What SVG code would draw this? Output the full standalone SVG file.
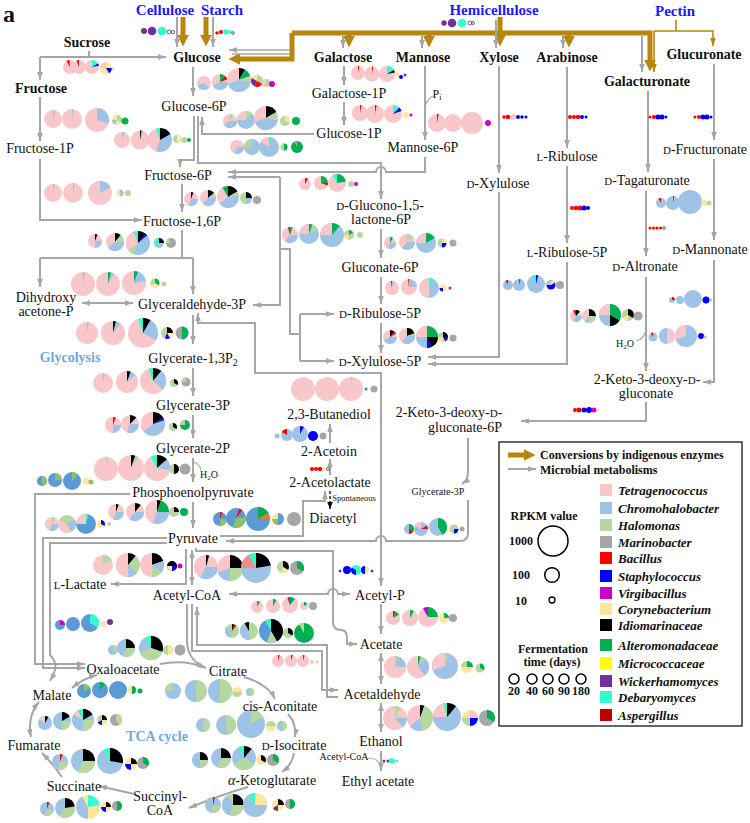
<svg xmlns="http://www.w3.org/2000/svg" width="750" height="823" viewBox="0 0 750 823">
<style>
.t{font-family:"Liberation Serif","Times New Roman",serif;font-size:14px;fill:#111;text-anchor:middle}
.b{font-weight:bold}
.src{font-weight:bold;font-size:15px;fill:#1a1aff}
.s{font-size:10px}
.lg{font-weight:bold;font-size:12px;text-anchor:start}
.lc{font-weight:bold;font-size:12px}
.tx{font-weight:bold;font-style:italic;font-size:13px;text-anchor:start}
.g{fill:none;stroke:#a6a6a6;stroke-width:2}
.ge{marker-end:url(#ag)}
.gd{marker-start:url(#ag);marker-end:url(#ag)}
.o{fill:none;stroke:#b8860b;stroke-width:5;marker-end:url(#ao)}
.ot{fill:none;stroke:#b8860b;stroke-width:1.6}
.pk{fill:#f9c6c9}.bl{fill:#9dc3e6}.gn{fill:#b5d7a0}.gy{fill:#a6a6a6}.rd{fill:#f00}.db{fill:#00f}.pu{fill:#c0c}.ye{fill:#ffe699}.bk{fill:#000}.dg{fill:#00b050}.yy{fill:#ff0}.wp{fill:#7030a0}.tq{fill:#33ffcc}.dr{fill:#c00000}.mb{fill:#5b9bd5}.mg{fill:#8cc168}.or{fill:#ed7d31}.sa{fill:#f28b8b}
.ol{fill:none;stroke:#444;stroke-width:.8}
</style>
<defs>
<marker id="ag" viewBox="0 0 10 10" refX="10" refY="5" markerWidth="8" markerHeight="8" markerUnits="userSpaceOnUse" orient="auto-start-reverse"><path d="M0 1.5L10 5L0 8.5z" fill="#a6a6a6"/></marker>
<marker id="at" viewBox="0 0 10 10" refX="10" refY="5" markerWidth="8" markerHeight="8" markerUnits="userSpaceOnUse" orient="auto"><path d="M0 1.5L10 5L0 8.5z" fill="#b8860b"/></marker>
<marker id="ao" viewBox="0 0 10 10" refX="2" refY="5" markerWidth="12" markerHeight="12" markerUnits="userSpaceOnUse" orient="auto"><path d="M0 0L10 5L0 10z" fill="#b8860b"/></marker>
<marker id="mk" viewBox="0 0 10 10" refX="10" refY="5" markerWidth="7" markerHeight="7" markerUnits="userSpaceOnUse" orient="auto"><path d="M0 1L10 5L0 9z" fill="#000"/></marker>
</defs>
<rect width="750" height="823" fill="#fff"/>

<g id="connectors">
<path class="o" d="M500 17V37"/>
<path class="o" d="M292 33H650V62"/>
<path class="o" d="M292 33V59H238"/>
<path class="o" d="M349 33V38"/>
<path class="o" d="M429 33V38"/>
<path class="o" d="M569 33V38"/>
<path class="o" d="M183 17V37"/>
<path class="o" d="M206 17V37"/>
<path class="ot" d="M676 20V31"/>
<path class="ot" d="M654 31H713V46" marker-end="url(#at)"/>
<path class="ot" d="M654 31V72" marker-end="url(#at)"/>
<path class="g ge" d="M177 17V47"/>
<path class="g ge" d="M213 17V47"/>
<path class="g ge" d="M290 50H229" style="stroke-width:1.6"/>
<path class="g" d="M290 54H232" style="stroke-width:1.6"/>
<path class="g ge" d="M343 36V48"/>
<path class="g ge" d="M422 36V48"/>
<path class="g ge" d="M496 20V48"/>
<path class="g ge" d="M563 36V48"/>
<path class="g ge" d="M642 36V72"/>
<path class="g ge" d="M40 57H166"/>
<path class="g" d="M89 51V57"/>
<path class="g ge" d="M40 57V80"/>
<path class="g ge" d="M40 97V141"/>
<path class="g ge" d="M40 159V220H142"/>
<path class="g ge" d="M193 67V96"/>
<path class="g ge" d="M194 116V160H180V167"/>
<path class="g ge" d="M198 116V163H381V199"/>
<path class="g ge" d="M314 134H202V117"/>
<path class="g ge" d="M344 66V85"/>
<path class="g ge" d="M344 102V125"/>
<path class="g ge" d="M425 66V140"/>
<path class="g" d="M425 110Q425 100 433 96" style="stroke-width:1.2"/>
<path class="g ge" d="M425 157V172H386A5 5 0 0 0 376 172H228"/>
<path class="g ge" d="M280 177H228"/>
<path class="g ge" d="M280 177V305H253"/>
<path class="g" d="M300 334H290V249H280"/>
<path class="g" d="M300 314V361"/>
<path class="g ge" d="M300 314H334"/>
<path class="g ge" d="M300 361H334"/>
<path class="g ge" d="M381 229V258"/>
<path class="g ge" d="M381 277V304"/>
<path class="g ge" d="M381 323V353"/>
<path class="g ge" d="M381 372V586"/>
<path class="g ge" d="M381 373H255V323H198V313"/>
<path class="g ge" d="M182 184V212"/>
<path class="g" d="M182 230V258"/>
<path class="g" d="M40 258H193"/>
<path class="g ge" d="M40 258V287"/>
<path class="g ge" d="M193 258V294"/>
<path class="g gd" d="M82 303H133"/>
<path class="g ge" d="M193 315V344"/>
<path class="g ge" d="M193 368V396"/>
<path class="g ge" d="M193 415V438"/>
<path class="g ge" d="M193 458V482"/>
<path class="g" d="M193 462Q200 464 201 470" style="stroke-width:1.2"/>
<path class="g ge" d="M193 502V528"/>
<path class="g ge" d="M130 494H35V664H85"/>
<path class="g ge" d="M167 538H43V668H85"/>
<path class="g ge" d="M167 543H50V655Q57 662 55 670Q53 676 50 681"/>
<path class="g ge" d="M186 549V584H111"/>
<path class="g gd" d="M192 550V585"/>
<path class="g ge" d="M220 536H303V501H325V491"/>
<path class="g ge" d="M468 438V472Q468 480 462 484"/>
<path class="g ge" d="M468 500V533Q468 541 460 541H386A5 5 0 0 0 376 541H226"/>
<path class="g ge" d="M196 548V551H333V622Q333 630 341 630Q347 630 347 638V644H357"/>
<path class="g gd" d="M229 594H328A5 5 0 0 1 338 594H350"/>
<path class="g ge" d="M187 604V642Q188 660 204 667"/>
<path class="g ge" d="M192 604V651H322V690H338"/>
<path class="g ge" d="M338 697H327V645H197V607"/>
<path class="g ge" d="M330 475V459"/>
<path class="g ge" d="M330 443V424"/>
<path d="M330 491V509" fill="none" stroke="#000" stroke-width="1.3" stroke-dasharray="3 2" marker-end="url(#mk)"/>
<path class="g ge" d="M381 604V634"/>
<path class="g gd" d="M381 653V684"/>
<path class="g gd" d="M381 703V732"/>
<path class="g ge" d="M381 751V771"/>
<path class="g" d="M368 758Q378 758 381 766" style="stroke-width:1.2"/>
<path class="g ge" d="M160 664Q185 659 206 668"/>
<path class="g ge" d="M244 677Q268 684 275 699"/>
<path class="g ge" d="M288 714Q297 724 295 737"/>
<path class="g ge" d="M294 753Q292 765 282 772"/>
<path class="g ge" d="M248 787Q220 795 189 808"/>
<path class="g ge" d="M134 794L99 786"/>
<path class="g ge" d="M62 777Q53 764 42 753"/>
<path class="g gd" d="M31 737Q27 716 39 702"/>
<path class="g gd" d="M72 688Q84 678 97 675"/>
<path class="g ge" d="M499 66V173"/>
<path class="g ge" d="M499 192V357H428"/>
<path class="g ge" d="M567 67V148"/>
<path class="g ge" d="M567 166V243"/>
<path class="g ge" d="M567 262V364H428"/>
<path class="g ge" d="M648 91V172"/>
<path class="g ge" d="M646 191V256"/>
<path class="g ge" d="M646 277V371"/>
<path class="g" d="M646 328Q646 338 636 341" style="stroke-width:1.2"/>
<path class="g ge" d="M714 64V140"/>
<path class="g ge" d="M714 159V240"/>
<path class="g ge" d="M714 260V382H703"/>
<path class="g ge" d="M646 402V421H521"/>
</g>

<g id="pies">
<circle cx="144" cy="31" r="3" class="wp"/><circle cx="152" cy="31" r="4.3" class="wp"/><circle cx="162" cy="31" r="4.3" class="tq"/><circle cx="169" cy="32" r="2" class="ol"/><circle cx="173" cy="32" r="1.7" class="ol"/>
<circle cx="217" cy="33" r="1.7" class="rd"/><circle cx="221" cy="32" r="2" class="rd"/><circle cx="226" cy="32" r="2.7" class="tq"/><circle cx="230" cy="32" r="2" class="tq"/><circle cx="233" cy="33" r="1.3" class="ol"/>
<circle cx="444" cy="23" r="2.7" class="wp"/><circle cx="452" cy="23" r="4.3" class="wp"/><circle cx="462" cy="23" r="4.3" class="tq"/><circle cx="470" cy="23" r="2" class="ol"/><circle cx="473" cy="23" r="1.5" class="ol"/>

<circle cx="70" cy="67" r="7" class="pk"/><path class="rd" d="M70 67L66.5 60.9A7 7 0 0 1 69.4 60Z"/>
<circle cx="79" cy="67" r="7" class="pk"/><path class="rd" d="M79 67L76.6 60.4A7 7 0 0 1 79 60Z"/>
<circle cx="92" cy="67" r="7" class="pk"/><path class="tq" d="M92 67L92 60A7 7 0 0 1 98.1 63.5Z"/><path class="db" d="M92 67L98.1 63.5A7 7 0 0 1 98.9 65.8Z"/>
<circle cx="106" cy="68" r="6" class="ye"/><path class="pk" d="M106 68L100 68A6 6 0 0 1 106 62Z"/><path class="db" d="M106 68L112 68A6 6 0 0 1 109 73.2Z"/>
<circle cx="113" cy="69" r="1.5" class="pk"/>

<circle cx="204" cy="83" r="7" class="pk"/><path class="bl" d="M204 83L209 88A7 7 0 0 1 197.4 85.4Z"/>
<circle cx="220" cy="82" r="8" class="pk"/><path class="bl" d="M220 82L228 82A8 8 0 0 1 213.1 86Z"/><path class="dg" d="M220 82L220 74A8 8 0 0 1 225.1 75.9Z"/><path class="rd" d="M220 82L225.1 75.9A8 8 0 0 1 227.5 79.3Z"/>
<circle cx="239" cy="80" r="12" class="pk"/><path class="bl" d="M239 80L250.8 82.1A12 12 0 0 1 227.7 84.1Z"/><path class="bk" d="M239 80L239 68A12 12 0 0 1 245 69.6Z"/><path class="dg" d="M239 80L245 69.6A12 12 0 0 1 250.3 75.9Z"/><path class="gn" d="M239 80L250.3 75.9A12 12 0 0 1 250.8 82.1Z"/>
<circle cx="257" cy="81" r="6" class="ye"/><path class="gn" d="M257 81L257 75A6 6 0 0 1 262.2 84Z"/><path class="wp" d="M257 81L254.9 86.6A6 6 0 0 1 251.8 78Z"/><path class="rd" d="M257 81L262.2 84A6 6 0 0 1 254.9 86.6Z"/>
<circle cx="266" cy="83" r="4" class="pk"/><path class="gn" d="M266 83L266 79A4 4 0 0 1 266 87Z"/>
<circle cx="272" cy="84" r="3" class="pu"/>

<circle cx="53" cy="119" r="9" class="pk"/><path class="bl" d="M53 119L53 110A9 9 0 0 1 55.3 110.3Z"/>
<circle cx="72" cy="119" r="10" class="pk"/><path class="bl" d="M72 119L72 109A10 10 0 0 1 73.7 109.2Z"/>
<circle cx="97" cy="120" r="12" class="pk"/><path class="bl" d="M97 120L97 108A12 12 0 0 1 108.3 124.1Z"/>
<circle cx="117" cy="120" r="5" class="ye"/><path class="gn" d="M117 120L117 115A5 5 0 0 1 121.3 122.5Z"/><path class="bl" d="M117 120L115.3 124.7A5 5 0 0 1 112 120Z"/>
<circle cx="125" cy="121" r="3.5" class="dg"/>

<circle cx="122" cy="140" r="8" class="pk"/><path class="bl" d="M122 140L122 132A8 8 0 0 1 124.7 132.5Z"/>
<circle cx="140" cy="140" r="9.5" class="pk"/><path class="gn" d="M140 140L140 130.5A9.5 9.5 0 0 1 144 131.4Z"/><path class="bk" d="M140 140L140 130.5A9.5 9.5 0 0 1 141.6 130.6Z"/>
<circle cx="160" cy="140" r="12" class="bl"/><path class="pk" d="M160 140L155.9 151.3A12 12 0 0 1 160 128Z"/><path class="bk" d="M160 140L160 128A12 12 0 0 1 170.4 134Z"/><path class="tq" d="M160 140L155.9 128.7A12 12 0 0 1 160 128Z"/>
<circle cx="177" cy="139" r="4" class="gn"/><path class="ye" d="M177 139L177 135A4 4 0 0 1 177 143Z"/>
<circle cx="184" cy="140" r="3" class="gn"/><circle cx="189" cy="140" r="2" class="dg"/>

<circle cx="53" cy="193" r="9" class="pk"/><path class="bl" d="M53 193L53 184A9 9 0 0 1 54.6 184.1Z"/>
<circle cx="73" cy="193" r="10" class="pk"/><path class="bl" d="M73 193L73 183A10 10 0 0 1 74.7 183.2Z"/>
<circle cx="100" cy="193" r="12" class="pk"/><path class="bl" d="M100 193L100 181A12 12 0 0 1 110.4 187Z"/>
<circle cx="120" cy="193" r="3.5" class="ye"/><path class="bl" d="M120 193L120 189.5A3.5 3.5 0 0 1 120 196.5Z"/>
<circle cx="128" cy="193" r="3" class="gn"/>

<circle cx="358" cy="73" r="7" class="pk"/><path class="rd" d="M358 73L358 66A7 7 0 0 1 359.2 66.1Z"/>
<circle cx="372" cy="74" r="7.5" class="pk"/><path class="rd" d="M372 74L372 66.5A7.5 7.5 0 0 1 373.3 66.6Z"/>
<circle cx="387" cy="74" r="8" class="pk"/><path class="tq" d="M387 74L387 66A8 8 0 0 1 393.9 70Z"/><path class="bk" d="M387 74L393.9 70A8 8 0 0 1 394.9 72.6Z"/>
<circle cx="397" cy="74" r="2.5" class="ye"/><circle cx="401" cy="77" r="2" class="db"/><circle cx="405" cy="75" r="1.5" class="pu"/>

<circle cx="360" cy="113" r="8" class="pk"/><path class="rd" d="M360 113L360 105A8 8 0 0 1 361.4 105.1Z"/>
<circle cx="375" cy="114" r="9" class="pk"/><path class="rd" d="M375 114L375 105A9 9 0 0 1 376.6 105.1Z"/>
<circle cx="393" cy="114" r="9" class="pk"/><path class="tq" d="M393 114L393 105A9 9 0 0 1 399.4 107.6Z"/><path class="db" d="M393 114L399.4 107.6A9 9 0 0 1 401.5 110.9Z"/>
<circle cx="406" cy="115" r="3" class="ye"/><circle cx="411" cy="115" r="1.5" class="pu"/>

<circle cx="437" cy="123" r="9" class="pk"/><path class="rd" d="M437 123L437 114A9 9 0 0 1 438.6 114.1Z"/>
<circle cx="453" cy="123" r="9" class="pk"/><circle cx="472" cy="123" r="11" class="pk"/>
<circle cx="488" cy="123" r="3" class="pu"/><circle cx="493" cy="124" r="1.5" class="ye"/>

<circle cx="230" cy="121" r="7" class="pk"/><path class="bl" d="M230 121L237 121A7 7 0 0 1 223.9 124.5Z"/><path class="gn" d="M230 121L230 114A7 7 0 0 1 233.5 114.9Z"/>
<circle cx="246" cy="120" r="9" class="bl"/><path class="pk" d="M246 120L237 120A9 9 0 0 1 246 111Z"/><path class="gn" d="M246 120L246 111A9 9 0 0 1 251.8 113.1Z"/>
<circle cx="266" cy="118" r="12" class="pk"/><path class="bl" d="M266 118L277.8 120.1A12 12 0 0 1 254.7 122.1Z"/><path class="bk" d="M266 118L266 106A12 12 0 0 1 276.4 112Z"/><path class="gn" d="M266 118L276.4 112A12 12 0 0 1 277.8 120.1Z"/>
<circle cx="285" cy="121" r="5" class="gn"/><path class="ye" d="M285 121L285 116A5 5 0 0 1 289.3 123.5Z"/>
<circle cx="296" cy="121" r="4" class="dg"/>

<circle cx="237" cy="147" r="7" class="pk"/><path class="bl" d="M237 147L244 147A7 7 0 0 1 234.6 153.6Z"/>
<circle cx="252" cy="147" r="8" class="bl"/><path class="gn" d="M252 147L244 147A8 8 0 0 1 252 139Z"/>
<circle cx="269" cy="147" r="10" class="bl"/><path class="pk" d="M269 147L260.3 142A10 10 0 0 1 269 137Z"/><path class="tq" d="M269 147L269 137A10 10 0 0 1 271.6 137.3Z"/>
<circle cx="284" cy="147" r="3.5" class="gn"/><path class="dg" d="M284 147L284 143.5A3.5 3.5 0 0 1 284 150.5Z"/>
<circle cx="297" cy="147" r="6" class="dg"/><path class="gy" d="M297 147L294 141.8A6 6 0 0 1 297 141Z"/>

<circle cx="305" cy="184" r="6" class="pk"/><path class="rd" d="M305 184L305 178A6 6 0 0 1 308 178.8Z"/>
<circle cx="321" cy="183" r="7" class="pk"/><path class="dg" d="M321 183L321 176A7 7 0 0 1 328 183Z"/><path class="rd" d="M321 183L328 183A7 7 0 0 1 327.6 185.4Z"/>
<circle cx="337" cy="183" r="9" class="pk"/><path class="dg" d="M337 183L337 174A9 9 0 0 1 345.9 181.4Z"/><path class="tq" d="M337 183L332.5 175.2A9 9 0 0 1 337 174Z"/>
<circle cx="351" cy="184" r="3" class="gn"/><circle cx="356" cy="184" r="2" class="pu"/>

<circle cx="191" cy="199" r="7" class="pk"/><path class="bl" d="M191 199L198 199A7 7 0 0 1 188.6 205.6Z"/><path class="bk" d="M191 199L191 192A7 7 0 0 1 193.4 192.4Z"/>
<circle cx="208" cy="198" r="8" class="pk"/><path class="bl" d="M208 198L216 198A8 8 0 0 1 202.9 204.1Z"/><path class="bk" d="M208 198L208 190A8 8 0 0 1 214.1 192.9Z"/><path class="gn" d="M208 198L214.1 192.9A8 8 0 0 1 216 198Z"/>
<circle cx="228" cy="197" r="11" class="pk"/><path class="bl" d="M228 197L238.8 195.1A11 11 0 0 1 219.6 204.1Z"/><path class="bk" d="M228 197L228 186A11 11 0 0 1 237.5 191.5Z"/><path class="gn" d="M228 197L237.5 191.5A11 11 0 0 1 238.8 195.1Z"/><path class="dg" d="M228 197L222.5 187.5A11 11 0 0 1 228 186Z"/>
<circle cx="246" cy="198" r="6" class="gn"/><path class="bk" d="M246 198L246 192A6 6 0 0 1 252 198Z"/><path class="bl" d="M246 198L252 198A6 6 0 0 1 246 204Z"/>
<circle cx="257" cy="200" r="4" class="gy"/>

<circle cx="95" cy="241" r="7" class="pk"/><path class="bl" d="M95 241L102 241A7 7 0 0 1 95 248Z"/><path class="bk" d="M95 241L95 234A7 7 0 0 1 97.4 234.4Z"/>
<circle cx="115" cy="242" r="9" class="pk"/><path class="bl" d="M115 242L124 242A9 9 0 0 1 108.1 247.8Z"/><path class="bk" d="M115 242L115 233A9 9 0 0 1 120.8 235.1Z"/><path class="gn" d="M115 242L120.8 235.1A9 9 0 0 1 124 242Z"/>
<circle cx="138" cy="243" r="12" class="bl"/><path class="pk" d="M138 243L128.8 250.7A12 12 0 0 1 133.9 231.7Z"/><path class="gn" d="M138 243L133.9 254.3A12 12 0 0 1 128.8 250.7Z"/><path class="tq" d="M138 243L133.9 231.7A12 12 0 0 1 138 231Z"/><path class="bk" d="M138 243L138 231A12 12 0 0 1 145.7 233.8Z"/><path class="db" d="M138 243L145.7 233.8A12 12 0 0 1 147.2 235.3Z"/>
<circle cx="159" cy="243" r="5" class="bl"/><path class="tq" d="M159 243L154 243A5 5 0 0 1 159 238Z"/><path class="bk" d="M159 243L159 238A5 5 0 0 1 164 243Z"/>
<circle cx="171" cy="243" r="5" class="gy"/><path class="gn" d="M171 243L166 243A5 5 0 0 1 168.5 238.7Z"/>

<circle cx="290" cy="235" r="8" class="pk"/><path class="bl" d="M290 235L298 235A8 8 0 0 1 285 241.2Z"/><path class="dg" d="M290 235L290 227A8 8 0 0 1 292.7 227.5Z"/><path class="rd" d="M290 235L288 227.3A8 8 0 0 1 290 227Z"/>
<circle cx="309" cy="234" r="10" class="bl"/><path class="pk" d="M309 234L299 234A10 10 0 0 1 309 224Z"/><path class="gn" d="M309 234L309 224A10 10 0 0 1 317.7 229Z"/><path class="dg" d="M309 234L309 224A10 10 0 0 1 312.4 224.6Z"/>
<circle cx="332" cy="235" r="12" class="bl"/><path class="pk" d="M332 235L320 235A12 12 0 0 1 332 223Z"/><path class="dg" d="M332 235L332 223A12 12 0 0 1 339.7 225.8Z"/>
<circle cx="349" cy="235" r="5" class="gn"/><path class="ye" d="M349 235L349 240A5 5 0 0 1 344 235Z"/><path class="dg" d="M349 235L349 230A5 5 0 0 1 353.3 232.5Z"/>
<circle cx="360" cy="235" r="3" class="gn"/>

<circle cx="390" cy="243" r="6" class="pk"/><path class="bl" d="M390 243L396 243A6 6 0 0 1 387.9 248.6Z"/><path class="dg" d="M390 243L390 237A6 6 0 0 1 393 237.8Z"/>
<circle cx="407" cy="242" r="8" class="pk"/><path class="bl" d="M407 242L415 242A8 8 0 0 1 401.9 248.1Z"/><path class="gn" d="M407 242L407 234A8 8 0 0 1 413.1 236.9Z"/>
<circle cx="426" cy="243" r="10" class="bl"/><path class="pk" d="M426 243L416 243A10 10 0 0 1 426 233Z"/><path class="dg" d="M426 243L426 233A10 10 0 0 1 434.7 238Z"/>
<circle cx="442" cy="243" r="4.5" class="gn"/><path class="ye" d="M442 243L442 238.5A4.5 4.5 0 0 1 446.5 243Z"/><path class="db" d="M442 243L446.5 243A4.5 4.5 0 0 1 442 247.5Z"/>
<circle cx="453" cy="243" r="3.5" class="gy"/>

<circle cx="392" cy="288" r="7" class="pk"/><path class="bl" d="M392 288L392 281A7 7 0 0 1 394.4 281.4Z"/><path class="rd" d="M392 288L390.8 281.1A7 7 0 0 1 392 281Z"/>
<circle cx="409" cy="287" r="8" class="pk"/><path class="bl" d="M409 287L409 279A8 8 0 0 1 417 287Z"/><path class="rd" d="M409 287L408 279.1A8 8 0 0 1 409 279Z"/>
<circle cx="429" cy="288" r="10" class="bl"/><path class="pk" d="M429 288L429 298A10 10 0 0 1 429 278Z"/><path class="tq" d="M429 288L429 278A10 10 0 0 1 434 279.3Z"/>
<circle cx="443" cy="288" r="3.5" class="ye"/><path class="db" d="M443 288L443 291.5A3.5 3.5 0 0 1 439.5 288Z"/>
<circle cx="450" cy="288" r="1.5" class="pu"/>

<circle cx="390" cy="337" r="7" class="pk"/><path class="bl" d="M390 337L397 337A7 7 0 0 1 384 340.5Z"/><path class="bk" d="M390 337L390 330A7 7 0 0 1 394.5 331.6Z"/><path class="rd" d="M390 337L394.5 331.6A7 7 0 0 1 396.1 333.5Z"/>
<circle cx="407" cy="336" r="8" class="pk"/><path class="bl" d="M407 336L415 336A8 8 0 0 1 401.9 342.1Z"/><path class="bk" d="M407 336L407 328A8 8 0 0 1 414.5 333.3Z"/><path class="gn" d="M407 336L414.5 333.3A8 8 0 0 1 415 336Z"/>
<circle cx="427" cy="337" r="11" class="bl"/><path class="pk" d="M427 337L416 337A11 11 0 0 1 427 326Z"/><path class="dg" d="M427 337L427 326A11 11 0 0 1 438 337Z"/><path class="bk" d="M427 337L438 337A11 11 0 0 1 431.4 347.1Z"/><path class="db" d="M427 337L431.4 347.1A11 11 0 0 1 427 348Z"/>
<circle cx="443" cy="337" r="5" class="gn"/><path class="bk" d="M443 337L443 332A5 5 0 0 1 448 337Z"/><path class="ye" d="M443 337L443 342A5 5 0 0 1 438 337Z"/><path class="db" d="M443 337L448 337A5 5 0 0 1 445.5 341.3Z"/>
<circle cx="453" cy="338" r="3.5" class="gy"/>

<circle cx="83" cy="284" r="12" class="pk"/><path class="bl" d="M83 284L83 272A12 12 0 0 1 85.1 272.2Z"/>
<circle cx="108" cy="284" r="12" class="pk"/><path class="dg" d="M108 284L108 272A12 12 0 0 1 111.1 272.4Z"/><path class="bl" d="M108 284L111.1 272.4A12 12 0 0 1 114 273.6Z"/>
<circle cx="134" cy="283" r="12" class="pk"/><path class="dg" d="M134 283L134 271A12 12 0 0 1 138.1 271.7Z"/><path class="bl" d="M134 283L138.1 271.7A12 12 0 0 1 145.8 280.9Z"/>
<circle cx="155" cy="283" r="4.5" class="ye"/><path class="dg" d="M155 283L155 278.5A4.5 4.5 0 0 1 158.9 285.3Z"/><path class="gn" d="M155 283L151.1 285.3A4.5 4.5 0 0 1 155 278.5Z"/>
<circle cx="164" cy="284" r="2.5" class="gn"/>

<circle cx="87" cy="333" r="11" class="pk"/><path class="bl" d="M87 333L87 322A11 11 0 0 1 88.9 322.2Z"/>
<circle cx="113" cy="333" r="12" class="pk"/><path class="bk" d="M113 333L113 321A12 12 0 0 1 116.1 321.4Z"/><path class="bl" d="M113 333L116.1 321.4A12 12 0 0 1 120.7 323.8Z"/>
<circle cx="143" cy="333" r="15" class="pk"/><path class="bl" d="M143 333L150.5 320A15 15 0 0 1 156 340.5Z"/><path class="bk" d="M143 333L143 318A15 15 0 0 1 150.5 320Z"/><path class="tq" d="M143 333L137.9 318.9A15 15 0 0 1 143 318Z"/>
<circle cx="167" cy="333" r="6" class="gn"/><path class="bk" d="M167 333L167 327A6 6 0 0 1 173 333Z"/><path class="ye" d="M167 333L173 333A6 6 0 0 1 170 338.2Z"/><path class="db" d="M167 333L170 338.2A6 6 0 0 1 164.9 338.6Z"/>
<circle cx="182" cy="333" r="6.5" class="gy"/><path class="dg" d="M182 333L182 326.5A6.5 6.5 0 0 1 182 339.5Z"/>

<circle cx="103" cy="383" r="10" class="pk"/><path class="bl" d="M103 383L103 373A10 10 0 0 1 104.7 373.2Z"/>
<circle cx="127" cy="382" r="11" class="pk"/><path class="bk" d="M127 382L127 371A11 11 0 0 1 130.8 371.7Z"/><path class="bl" d="M127 382L130.8 371.7A11 11 0 0 1 135.4 374.9Z"/>
<circle cx="153" cy="381" r="13" class="pk"/><path class="bk" d="M153 381L153 368A13 13 0 0 1 161.4 371Z"/><path class="bl" d="M153 381L161.4 371A13 13 0 0 1 163 389.4Z"/><path class="tq" d="M153 381L148.6 368.8A13 13 0 0 1 153 368Z"/>
<circle cx="174" cy="383" r="4" class="gn"/><path class="bk" d="M174 383L174 379A4 4 0 0 1 177.5 385Z"/>
<circle cx="186" cy="382" r="4.5" class="gy"/><path class="gn" d="M186 382L181.5 382A4.5 4.5 0 0 1 186 377.5Z"/>

<circle cx="113" cy="425" r="8" class="pk"/><path class="bl" d="M113 425L121 425A8 8 0 0 1 113 433Z"/><path class="rd" d="M113 425L113 417A8 8 0 0 1 115.7 417.5Z"/>
<circle cx="130" cy="424" r="9" class="pk"/><path class="bl" d="M130 424L139 424A9 9 0 0 1 126.9 432.5Z"/><path class="bk" d="M130 424L130 415A9 9 0 0 1 136.4 417.6Z"/>
<circle cx="153" cy="424" r="12" class="bl"/><path class="pk" d="M153 424L143.8 431.7A12 12 0 0 1 153 412Z"/><path class="bk" d="M153 424L153 412A12 12 0 0 1 163.4 418Z"/><path class="db" d="M153 424L163.4 418A12 12 0 0 1 164.3 419.9Z"/>
<circle cx="173" cy="427" r="4" class="gn"/><path class="bk" d="M173 427L173 423A4 4 0 0 1 176.5 429Z"/>
<circle cx="185" cy="425" r="5" class="dg"/><path class="gn" d="M185 425L180 425A5 5 0 0 1 185 420Z"/>

<circle cx="106" cy="469" r="12" class="pk"/><path class="gn" d="M106 469L106 457A12 12 0 0 1 108.1 457.2Z"/>
<circle cx="131" cy="468" r="13" class="pk"/><path class="bk" d="M131 468L131 455A13 13 0 0 1 135.4 455.8Z"/><path class="gn" d="M131 468L135.4 455.8A13 13 0 0 1 138.5 457.4Z"/>
<circle cx="157" cy="468" r="13" class="pk"/><path class="bk" d="M157 468L157 455A13 13 0 0 1 167 459.6Z"/><path class="bl" d="M157 468L167 459.6A13 13 0 0 1 169.8 470.3Z"/><path class="tq" d="M157 468L150.5 456.7A13 13 0 0 1 157 455Z"/>
<circle cx="174" cy="469" r="5" class="gn"/><path class="bk" d="M174 469L174 464A5 5 0 0 1 174 474Z"/>
<circle cx="185" cy="469" r="5.5" class="gy"/>

<circle cx="42" cy="481" r="5" class="mb"/><path class="mg" d="M42 481L42 476A5 5 0 0 1 42 486Z"/>
<circle cx="55" cy="480" r="7" class="mb"/><path class="mg" d="M55 480L55 473A7 7 0 0 1 62 480Z"/>
<circle cx="72" cy="481" r="9" class="mb"/><path class="mg" d="M72 481L72 472A9 9 0 0 1 77.8 474.1Z"/>
<circle cx="86" cy="481" r="3.5" class="ye"/><circle cx="91" cy="482" r="2.5" class="mg"/>

<circle cx="52" cy="524" r="7" class="pk"/><path class="bl" d="M52 524L59 524A7 7 0 0 1 49.6 530.6Z"/><path class="gn" d="M52 524L52 517A7 7 0 0 1 55.5 517.9Z"/>
<circle cx="67" cy="524" r="9" class="gn"/><path class="pk" d="M67 524L71.5 531.8A9 9 0 0 1 59.2 519.5Z"/><path class="bl" d="M67 524L74.8 519.5A9 9 0 0 1 71.5 531.8Z"/>
<circle cx="86" cy="524" r="10" class="mb"/><path class="pk" d="M86 524L76 524A10 10 0 0 1 86 514Z"/><path class="tq" d="M86 524L86 514A10 10 0 0 1 88.6 514.3Z"/>
<circle cx="101" cy="524" r="4" class="ye"/><path class="db" d="M101 524L101 520A4 4 0 0 1 104.5 526Z"/>
<circle cx="109" cy="524" r="2" class="gn"/>

<circle cx="116" cy="512" r="8" class="pk"/><path class="bl" d="M116 512L124 512A8 8 0 0 1 113.3 519.5Z"/><path class="bk" d="M116 512L116 504A8 8 0 0 1 118.7 504.5Z"/>
<circle cx="135" cy="512" r="9" class="pk"/><path class="bl" d="M135 512L144 512A9 9 0 0 1 129.2 518.9Z"/><path class="bk" d="M135 512L135 503A9 9 0 0 1 140.8 505.1Z"/>
<circle cx="157" cy="512" r="12" class="pk"/><path class="bl" d="M157 512L169 512A12 12 0 0 1 152.9 523.3Z"/><path class="bk" d="M157 512L157 500A12 12 0 0 1 161.1 500.7Z"/><path class="dg" d="M157 512L161.1 500.7A12 12 0 0 1 169 512Z"/>
<circle cx="174" cy="512" r="5" class="gn"/><path class="bk" d="M174 512L174 507A5 5 0 0 1 179 512Z"/>
<circle cx="184" cy="512" r="4" class="dg"/>

<circle cx="220" cy="519" r="7" class="mb"/><path class="mg" d="M220 519L227 519A7 7 0 0 1 220 526Z"/><path class="rd" d="M220 519L220 512A7 7 0 0 1 222.4 512.4Z"/>
<circle cx="236" cy="518" r="10" class="mb"/><path class="mg" d="M236 518L246 518A10 10 0 0 1 232.6 527.4Z"/><path class="rd" d="M236 518L239.4 508.6A10 10 0 0 1 242.4 510.3Z"/>
<circle cx="258" cy="519" r="12" class="mb"/><path class="dg" d="M258 519L258 507A12 12 0 0 1 268.4 513Z"/><path class="or" d="M258 519L268.4 513A12 12 0 0 1 270 519Z"/>
<circle cx="278" cy="519" r="6" class="ye"/><path class="mb" d="M278 519L278 513A6 6 0 0 1 278 525Z"/><path class="mg" d="M278 519L278 525A6 6 0 0 1 272 519Z"/>
<circle cx="294" cy="519" r="7" class="gy"/>

<circle cx="103" cy="565" r="10" class="pk"/><path class="gn" d="M103 565L103 555A10 10 0 0 1 111.7 560Z"/>
<circle cx="128" cy="565" r="12" class="gn"/><path class="pk" d="M128 565L128 577A12 12 0 0 1 128 553Z"/><path class="bk" d="M128 565L128 553A12 12 0 0 1 135.7 555.8Z"/><path class="bl" d="M128 565L137.2 572.7A12 12 0 0 1 128 577Z"/>
<circle cx="152" cy="565" r="12" class="pk"/><path class="bk" d="M152 565L152 553A12 12 0 0 1 163.3 560.9Z"/><path class="bl" d="M152 565L163.3 560.9A12 12 0 0 1 161.2 572.7Z"/><path class="gn" d="M152 565L161.2 572.7A12 12 0 0 1 152 577Z"/>
<circle cx="172" cy="566" r="5" class="bk"/><path class="db" d="M172 566L177 566A5 5 0 0 1 172 571Z"/><path class="ye" d="M172 566L172 571A5 5 0 0 1 167 566Z"/>
<circle cx="180" cy="566" r="2.5" class="pu"/>

<circle cx="206" cy="567" r="12" class="pk"/><path class="bl" d="M206 567L218 567A12 12 0 0 1 200 577.4Z"/><path class="bk" d="M206 567L206 555A12 12 0 0 1 209.1 555.4Z"/>
<circle cx="230" cy="568" r="13" class="pk"/><path class="bk" d="M230 568L230 555A13 13 0 0 1 243 568Z"/><path class="gn" d="M230 568L243 568A13 13 0 0 1 230 581Z"/><path class="bl" d="M230 568L230 581A13 13 0 0 1 217.8 572.4Z"/>
<circle cx="256" cy="568" r="15" class="bl"/><path class="bk" d="M256 568L256 553A15 15 0 0 1 270.8 565.4Z"/><path class="tq" d="M256 568L248.5 555A15 15 0 0 1 256 553Z"/><path class="sa" d="M256 568L241 568A15 15 0 0 1 248.5 555Z"/>
<circle cx="283" cy="567" r="6" class="gn"/><path class="bk" d="M283 567L283 561A6 6 0 0 1 288.2 570Z"/><path class="ye" d="M283 567L288.2 570A6 6 0 0 1 281 572.6Z"/>
<circle cx="297" cy="568" r="7" class="gy"/><path class="dg" d="M297 568L297 561A7 7 0 0 1 303.1 571.5Z"/>

<circle cx="277" cy="436" r="2.5" class="bl"/>
<circle cx="287" cy="435" r="6" class="bl"/><path class="rd" d="M287 435L281.8 432A6 6 0 0 1 287 429Z"/>
<circle cx="300" cy="434" r="8" class="bl"/><path class="db" d="M300 434L300 426A8 8 0 0 1 304 427.1Z"/>
<circle cx="313" cy="436" r="5" class="db"/><circle cx="323" cy="436" r="3.5" class="gy"/>
<circle cx="312" cy="469" r="2" class="rd"/><circle cx="316" cy="469" r="2" class="rd"/><circle cx="320" cy="469" r="2.2" class="rd"/><circle cx="324" cy="469" r="2" class="ye"/><circle cx="328" cy="469" r="1.5" class="ol"/>
<circle cx="303" cy="389" r="12" class="pk"/><circle cx="327" cy="389" r="12" class="pk"/><circle cx="351" cy="389" r="12" class="pk"/><path class="gn" d="M351 389L351 377A12 12 0 0 1 353.1 377.2Z"/><circle cx="366" cy="389" r="1.5" class="dg"/><circle cx="374" cy="389" r="3.5" class="gy"/>
<circle cx="340" cy="571" r="1.5" class="wp"/><circle cx="347" cy="570" r="4" class="db"/><circle cx="356" cy="570" r="5" class="tq"/><path class="db" d="M356 570L356 575A5 5 0 0 1 351.7 567.5Z"/><circle cx="365" cy="570" r="4" class="ye"/><path class="db" d="M365 570L365 574A4 4 0 0 1 365 566Z"/><circle cx="372" cy="571" r="1.5" class="wp"/>

<circle cx="409" cy="529" r="5" class="bl"/><path class="dg" d="M409 529L409 524A5 5 0 0 1 413.3 531.5Z"/><path class="rd" d="M409 529L413.3 531.5A5 5 0 0 1 409 534Z"/>
<circle cx="421" cy="529" r="7" class="bl"/><path class="pk" d="M421 529L414.9 525.5A7 7 0 0 1 421 522Z"/><path class="rd" d="M421 529L427.1 525.5A7 7 0 0 1 428 529Z"/>
<circle cx="438" cy="527" r="9" class="bl"/><path class="dg" d="M438 527L438 518A9 9 0 0 1 442.5 534.8Z"/>
<circle cx="454" cy="529" r="4.5" class="gn"/><path class="db" d="M454 529L458.5 529A4.5 4.5 0 0 1 454 533.5Z"/>
<circle cx="462" cy="529" r="2.5" class="gy"/>

<circle cx="257" cy="607" r="6" class="pk"/><path class="dg" d="M257 607L257 601A6 6 0 0 1 260 601.8Z"/>
<circle cx="273" cy="606" r="7" class="pk"/><path class="dg" d="M273 606L273 599A7 7 0 0 1 276.5 599.9Z"/>
<circle cx="290" cy="605" r="8" class="pk"/><path class="dg" d="M290 605L290 597A8 8 0 0 1 295.1 598.9Z"/><path class="pu" d="M290 605L287.3 597.5A8 8 0 0 1 290 597Z"/>
<circle cx="304" cy="606" r="4" class="pk"/><path class="dg" d="M304 606L304 602A4 4 0 0 1 307.5 604Z"/>
<circle cx="313" cy="606" r="4" class="gy"/>

<circle cx="60" cy="625" r="5" class="mb"/><path class="pu" d="M60 625L60 620A5 5 0 0 1 65 625Z"/>
<circle cx="73" cy="624" r="7" class="mb"/>
<circle cx="90" cy="623" r="9" class="mb"/><path class="tq" d="M90 623L90 614A9 9 0 0 1 97.8 627.5Z"/>
<circle cx="104" cy="624" r="3" class="ye"/><circle cx="110" cy="622" r="3" class="wp"/>

<circle cx="393" cy="618" r="7" class="pk"/><path class="rd" d="M393 618L393 611A7 7 0 0 1 395.4 611.4Z"/><path class="dg" d="M393 618L395.4 611.4A7 7 0 0 1 399.1 614.5Z"/>
<circle cx="410" cy="618" r="8" class="pk"/><path class="dg" d="M410 618L410 610A8 8 0 0 1 414 611.1Z"/>
<circle cx="428" cy="617" r="10" class="pk"/><path class="dg" d="M428 617L428 607A10 10 0 0 1 438 617Z"/><path class="pu" d="M428 617L423 608.3A10 10 0 0 1 428 607Z"/>
<circle cx="444" cy="618" r="5" class="ye"/><path class="dg" d="M444 618L444 613A5 5 0 0 1 449 618Z"/>
<circle cx="453" cy="618" r="4" class="gy"/>

<circle cx="395" cy="667" r="11" class="pk"/><path class="bl" d="M395 667L396.9 656.2A11 11 0 0 1 406 667Z"/><path class="gn" d="M395 667L395 656A11 11 0 0 1 396.9 656.2Z"/>
<circle cx="418" cy="667" r="11" class="pk"/><path class="dg" d="M418 667L418 656A11 11 0 0 1 420.8 656.4Z"/><path class="gn" d="M418 667L420.8 656.4A11 11 0 0 1 425.1 658.6Z"/><path class="bl" d="M418 667L425.1 658.6A11 11 0 0 1 425.1 675.4Z"/>
<circle cx="445" cy="666" r="13" class="bl"/><path class="pk" d="M445 666L432.8 670.4A13 13 0 0 1 445 653Z"/><path class="gn" d="M445 666L445 653A13 13 0 0 1 449.4 653.8Z"/>
<circle cx="467" cy="667" r="6" class="ye"/><path class="dg" d="M467 667L467 661A6 6 0 0 1 473 667Z"/><path class="gn" d="M467 667L461 667A6 6 0 0 1 467 661Z"/>
<circle cx="480" cy="668" r="4.5" class="gn"/><path class="dg" d="M480 668L480 663.5A4.5 4.5 0 0 1 483.9 670.3Z"/>

<circle cx="395" cy="718" r="12" class="pk"/><path class="gn" d="M395 718L395 706A12 12 0 0 1 401 707.6Z"/><path class="bl" d="M395 718L407 718A12 12 0 0 1 402.7 727.2Z"/>
<circle cx="420" cy="718" r="13" class="pk"/><path class="bk" d="M420 718L420 705A13 13 0 0 1 424.4 705.8Z"/><path class="gn" d="M420 718L424.4 705.8A13 13 0 0 1 422.3 730.8Z"/><path class="bl" d="M420 718L422.3 730.8A13 13 0 0 1 410 726.4Z"/>
<circle cx="447" cy="717" r="14" class="bl"/><path class="pk" d="M447 717L433 717A14 14 0 0 1 447 703Z"/><path class="bk" d="M447 717L447 703A14 14 0 0 1 456 706.3Z"/><path class="tq" d="M447 717L443.4 703.5A14 14 0 0 1 447 703Z"/>
<circle cx="470" cy="718" r="8" class="ye"/><path class="pk" d="M470 718L470 710A8 8 0 0 1 478 718Z"/><path class="db" d="M470 718L478 718A8 8 0 0 1 470 726Z"/><path class="gn" d="M470 718L470 726A8 8 0 0 1 462 718Z"/>
<circle cx="487" cy="718" r="8" class="gy"/><path class="dg" d="M487 718L487 710A8 8 0 0 1 493.9 722Z"/>
<circle cx="384" cy="761" r="1.5" class="wp"/><circle cx="388" cy="761" r="1.5" class="wp"/><circle cx="392" cy="761" r="3" class="tq"/><circle cx="397" cy="761" r="1.2" class="tq"/>

<circle cx="232" cy="631" r="7" class="gn"/><path class="bl" d="M232 631L229.6 637.6A7 7 0 0 1 225.9 627.5Z"/><path class="bk" d="M232 631L232 624A7 7 0 0 1 234.4 624.4Z"/><path class="rd" d="M232 631L234.4 624.4A7 7 0 0 1 236.5 625.6Z"/>
<circle cx="249" cy="631" r="9" class="gn"/><path class="bl" d="M249 631L249 640A9 9 0 0 1 244.5 623.2Z"/><path class="bk" d="M249 631L244.5 623.2A9 9 0 0 1 249 622Z"/>
<circle cx="271" cy="631" r="12" class="mb"/><path class="bk" d="M271 631L271 619A12 12 0 0 1 277 641.4Z"/><path class="gn" d="M271 631L277 641.4A12 12 0 0 1 266.9 642.3Z"/><path class="tq" d="M271 631L265 620.6A12 12 0 0 1 271 619Z"/>
<circle cx="288" cy="633" r="5" class="gn"/><path class="bk" d="M288 633L288 628A5 5 0 0 1 292.3 635.5Z"/>
<circle cx="304" cy="633" r="10" class="dg"/><path class="gn" d="M304 633L299 624.3A10 10 0 0 1 304 623Z"/>

<circle cx="278" cy="661" r="6" class="pk"/><path class="rd" d="M278 661L278 655A6 6 0 0 1 279.6 655.2Z"/>
<circle cx="291" cy="661" r="6" class="pk"/><path class="rd" d="M291 661L291 655A6 6 0 0 1 292.6 655.2Z"/>
<circle cx="303" cy="661" r="6" class="pk"/><path class="rd" d="M303 661L303 655A6 6 0 0 1 304.6 655.2Z"/>
<circle cx="312" cy="662" r="2" class="pk"/><circle cx="317" cy="662" r="1.5" class="pk"/>

<circle cx="113" cy="650" r="5" class="bl"/><path class="gn" d="M113 650L113 645A5 5 0 0 1 117.3 652.5Z"/>
<circle cx="126" cy="648" r="9" class="bl"/><path class="bk" d="M126 648L126 639A9 9 0 0 1 135 648Z"/><path class="gn" d="M126 648L135 648A9 9 0 0 1 122.9 656.5Z"/>
<circle cx="151" cy="648" r="12" class="bl"/><path class="bk" d="M151 648L151 636A12 12 0 0 1 162.3 652.1Z"/><path class="gn" d="M151 648L162.3 652.1A12 12 0 0 1 139.7 652.1Z"/><path class="tq" d="M151 648L145 637.6A12 12 0 0 1 151 636Z"/>
<circle cx="168" cy="650" r="5" class="gn"/><path class="ye" d="M168 650L168 645A5 5 0 0 1 168 655Z"/>
<circle cx="180" cy="650" r="5.5" class="gy"/>

<circle cx="84" cy="691" r="7" class="mb"/><path class="mg" d="M84 691L84 684A7 7 0 0 1 90.1 687.5Z"/>
<circle cx="100" cy="690" r="8" class="mb"/><path class="dg" d="M100 690L100 682A8 8 0 0 1 105.1 683.9Z"/>
<circle cx="118" cy="690" r="9" class="mb"/>
<circle cx="132" cy="690" r="4" class="ye"/><path class="dg" d="M132 690L132 686A4 4 0 0 1 132 694Z"/>
<circle cx="140" cy="691" r="2.5" class="dg"/>

<circle cx="173" cy="691" r="8" class="bl"/><path class="gn" d="M173 691L165 691A8 8 0 0 1 173 683Z"/>
<circle cx="196" cy="691" r="11" class="gn"/><path class="bl" d="M196 691L196 702A11 11 0 0 1 196 680Z"/>
<circle cx="220" cy="691" r="12" class="bl"/><path class="gn" d="M220 691L220 679A12 12 0 0 1 220 703Z"/>
<circle cx="237" cy="692" r="5" class="ye"/><path class="gn" d="M237 692L242 692A5 5 0 0 1 232 692Z"/>
<circle cx="250" cy="692" r="4" class="bl"/><path class="gn" d="M250 692L250 688A4 4 0 0 1 250 696Z"/>

<circle cx="203" cy="725" r="7" class="bl"/><path class="gn" d="M203 725L203 718A7 7 0 0 1 203 732Z"/>
<circle cx="226" cy="725" r="10" class="bl"/><path class="gn" d="M226 725L226 715A10 10 0 0 1 227.7 734.8Z"/>
<circle cx="251" cy="724" r="14" class="bl"/><path class="gn" d="M251 724L251 710A14 14 0 0 1 263.1 717Z"/>
<circle cx="271" cy="726" r="5" class="gn"/><path class="ye" d="M271 726L276 726A5 5 0 0 1 266 726Z"/>
<circle cx="282" cy="726" r="5" class="gn"/><path class="bl" d="M282 726L282 731A5 5 0 0 1 282 721Z"/>

<circle cx="45" cy="723" r="7" class="bl"/><path class="pk" d="M45 723L38.9 719.5A7 7 0 0 1 45 716Z"/><path class="bk" d="M45 723L45 716A7 7 0 0 1 48.5 716.9Z"/>
<circle cx="62" cy="721" r="9" class="bl"/><path class="bk" d="M62 721L62 712A9 9 0 0 1 69.8 716.5Z"/><path class="gn" d="M62 721L71 721A9 9 0 0 1 62 730Z"/>
<circle cx="83" cy="720" r="11" class="bl"/><path class="bk" d="M83 720L83 709A11 11 0 0 1 92.5 714.5Z"/><path class="tq" d="M83 720L77.5 710.5A11 11 0 0 1 83 709Z"/><path class="pk" d="M83 720L73.5 714.5A11 11 0 0 1 77.5 710.5Z"/><path class="gn" d="M83 720L94 720A11 11 0 0 1 83 731Z"/>
<circle cx="102" cy="720" r="5" class="gn"/><path class="bk" d="M102 720L102 715A5 5 0 0 1 107 720Z"/><path class="ye" d="M102 720L107 720A5 5 0 0 1 102 725Z"/><path class="db" d="M102 720L102 725A5 5 0 0 1 97.7 722.5Z"/>
<circle cx="116" cy="720" r="6" class="gy"/><path class="gn" d="M116 720L116 714A6 6 0 0 1 119 725.2Z"/>

<circle cx="60" cy="762" r="8" class="bl"/><path class="rd" d="M60 762L60 754A8 8 0 0 1 62.7 754.5Z"/><path class="gn" d="M60 762L68 762A8 8 0 0 1 57.3 769.5Z"/>
<circle cx="83" cy="761" r="12" class="bl"/><path class="bk" d="M83 761L83 749A12 12 0 0 1 95 761Z"/><path class="gn" d="M83 761L95 761A12 12 0 0 1 77 771.4Z"/>
<circle cx="110" cy="761" r="13" class="bl"/><path class="bk" d="M110 761L110 748A13 13 0 0 1 122.8 763.3Z"/><path class="tq" d="M110 761L103.5 749.7A13 13 0 0 1 110 748Z"/>
<circle cx="131" cy="764" r="6" class="ye"/><path class="bk" d="M131 764L131 758A6 6 0 0 1 137 764Z"/><path class="db" d="M131 764L131 770A6 6 0 0 1 125 764Z"/>
<circle cx="143" cy="763" r="6" class="gy"/><path class="dg" d="M143 763L143 757A6 6 0 0 1 148.2 766Z"/>

<circle cx="200" cy="760" r="8" class="bl"/><path class="bk" d="M200 760L200 752A8 8 0 0 1 208 760Z"/><path class="gn" d="M200 760L208 760A8 8 0 0 1 200 768Z"/>
<circle cx="221" cy="758" r="10" class="bl"/><path class="bk" d="M221 758L221 748A10 10 0 0 1 231 758Z"/><path class="gn" d="M221 758L231 758A10 10 0 0 1 217.6 767.4Z"/>
<circle cx="244" cy="758" r="12" class="bl"/><path class="bk" d="M244 758L244 746A12 12 0 0 1 251.7 748.8Z"/><path class="tq" d="M244 758L238 747.6A12 12 0 0 1 244 746Z"/><path class="gn" d="M244 758L254.4 764A12 12 0 0 1 233.6 764Z"/>
<circle cx="261" cy="760" r="5" class="ye"/><path class="bk" d="M261 760L261 755A5 5 0 0 1 265.3 762.5Z"/>
<circle cx="273" cy="760" r="6" class="gy"/><path class="dg" d="M273 760L273 754A6 6 0 0 1 278.2 763Z"/>

<circle cx="47" cy="809" r="7" class="bl"/><path class="rd" d="M47 809L47 802A7 7 0 0 1 49.4 802.4Z"/><path class="gn" d="M47 809L53.9 810.2A7 7 0 0 1 44.6 815.6Z"/>
<circle cx="65" cy="808" r="10" class="bl"/><path class="bk" d="M65 808L65 798A10 10 0 0 1 74.8 806.3Z"/><path class="gn" d="M65 808L75 808A10 10 0 0 1 58.6 815.7Z"/>
<circle cx="88" cy="807" r="12" class="ye"/><path class="tq" d="M88 807L88 795A12 12 0 0 1 99.8 804.9Z"/><path class="bl" d="M88 807L88 819A12 12 0 0 1 82 796.6Z"/>
<circle cx="106" cy="807" r="5" class="ye"/><path class="bk" d="M106 807L106 802A5 5 0 0 1 111 807Z"/><path class="db" d="M106 807L106 812A5 5 0 0 1 101 807Z"/>
<circle cx="117" cy="806" r="5" class="gy"/><path class="dg" d="M117 806L117 801A5 5 0 0 1 117 811Z"/>

<circle cx="213" cy="805" r="8" class="bl"/><path class="rd" d="M213 805L213 797A8 8 0 0 1 215.1 797.3Z"/><path class="gn" d="M213 805L221 805A8 8 0 0 1 210.3 812.5Z"/>
<circle cx="233" cy="805" r="11" class="gn"/><path class="bk" d="M233 805L233 794A11 11 0 0 1 244 805Z"/><path class="bl" d="M233 805L229.2 815.3A11 11 0 0 1 227.5 795.5Z"/>
<circle cx="255" cy="805" r="12" class="bl"/><path class="tq" d="M255 805L249 794.6A12 12 0 0 1 255 793Z"/><path class="ye" d="M255 805L255 793A12 12 0 0 1 267 805Z"/>
<circle cx="278" cy="805" r="6" class="ye"/><path class="bk" d="M278 805L278 799A6 6 0 0 1 284 805Z"/><path class="wp" d="M278 805L278 811A6 6 0 0 1 272.8 808Z"/>
<circle cx="290" cy="804" r="5" class="gy"/><path class="dg" d="M290 804L290 799A5 5 0 0 1 290 809Z"/>

<circle cx="504" cy="117" r="1.8" class="rd"/><circle cx="508" cy="117" r="2.3" class="rd"/><circle cx="513" cy="117" r="3" class="pk"/><circle cx="518" cy="117" r="2" class="db"/><circle cx="522" cy="117" r="1.8" class="db"/><circle cx="526" cy="117" r="1.5" class="db"/>
<circle cx="570" cy="117" r="2" class="rd"/><circle cx="574" cy="117" r="2" class="rd"/><circle cx="578" cy="117" r="2.2" class="rd"/><circle cx="582" cy="117" r="2" class="db"/><circle cx="586" cy="117" r="1.5" class="db"/>
<circle cx="650" cy="117" r="1.5" class="rd"/><circle cx="654" cy="117" r="2" class="rd"/><circle cx="658" cy="117" r="2.5" class="db"/><circle cx="662" cy="117" r="2.5" class="db"/><circle cx="666" cy="117" r="1.5" class="db"/>
<circle cx="695" cy="117" r="1.5" class="rd"/><circle cx="699" cy="117" r="2" class="rd"/><circle cx="703" cy="117" r="2.5" class="db"/><circle cx="707" cy="117" r="2.5" class="db"/><circle cx="711" cy="117" r="1.5" class="db"/>
<circle cx="572" cy="208" r="2" class="rd"/><circle cx="576" cy="208" r="2.2" class="rd"/><circle cx="580" cy="208" r="2.5" class="rd"/><circle cx="584" cy="208" r="2.5" class="db"/><circle cx="588" cy="208" r="2" class="db"/>
<circle cx="650" cy="228" r="1.5" class="rd"/><circle cx="653.5" cy="228" r="1.5" class="rd"/><circle cx="657" cy="228" r="1.6" class="rd"/><circle cx="660.5" cy="228" r="1.5" class="rd"/><circle cx="664" cy="228" r="1.3" class="ol"/>
<circle cx="575" cy="410" r="2" class="rd"/><circle cx="579" cy="410" r="2.5" class="rd"/><circle cx="584" cy="410" r="2.5" class="db"/><circle cx="589" cy="410" r="3" class="db"/><circle cx="594" cy="410" r="2.5" class="pu"/><circle cx="598" cy="410" r="1.5" class="ye"/>

<circle cx="661" cy="203" r="5" class="bl"/><path class="rd" d="M661 203L658.5 198.7A5 5 0 0 1 661 198Z"/>
<circle cx="673" cy="203" r="7" class="bl"/><path class="rd" d="M673 203L673 196A7 7 0 0 1 674.2 196.1Z"/>
<circle cx="690" cy="202" r="12" class="bl"/><circle cx="704" cy="203" r="3" class="ye"/><circle cx="709" cy="203" r="2.5" class="gn"/>

<circle cx="508" cy="285" r="5" class="bl"/><path class="rd" d="M508 285L505.5 280.7A5 5 0 0 1 508 280Z"/>
<circle cx="519" cy="285" r="6" class="bl"/><path class="rd" d="M519 285L519 279A6 6 0 0 1 520.6 279.2Z"/>
<circle cx="536" cy="284" r="9" class="bl"/><path class="tq" d="M536 284L531.5 276.2A9 9 0 0 1 536 275Z"/><path class="db" d="M536 284L536 275A9 9 0 0 1 538.3 275.3Z"/>
<circle cx="551" cy="285" r="4.5" class="db"/><path class="gn" d="M551 285L546.5 285A4.5 4.5 0 0 1 551 280.5Z"/><path class="ye" d="M551 285L551 280.5A4.5 4.5 0 0 1 554.9 282.8Z"/>
<circle cx="560" cy="285" r="4" class="gy"/>

<circle cx="576" cy="316" r="6" class="pk"/><path class="bl" d="M576 316L582 316A6 6 0 0 1 573.9 321.6Z"/><path class="bk" d="M576 316L576 310A6 6 0 0 1 579.9 311.4Z"/><path class="rd" d="M576 316L573 310.8A6 6 0 0 1 576 310Z"/>
<circle cx="589" cy="316" r="7" class="pk"/><path class="bk" d="M589 316L589 309A7 7 0 0 1 596 316Z"/><path class="gn" d="M589 316L596 316A7 7 0 0 1 589 323Z"/><path class="bl" d="M589 316L589 323A7 7 0 0 1 584.5 321.4Z"/>
<circle cx="610" cy="315" r="11" class="bl"/><path class="dg" d="M610 315L610 304A11 11 0 0 1 619.5 320.5Z"/><path class="bk" d="M610 315L619.5 320.5A11 11 0 0 1 610 326Z"/><path class="pk" d="M610 315L599 315A11 11 0 0 1 610 304Z"/>
<circle cx="628" cy="315" r="6" class="gn"/><path class="bk" d="M628 315L628 309A6 6 0 0 1 633.2 318Z"/><path class="ye" d="M628 315L628 321A6 6 0 0 1 622.8 318Z"/>
<circle cx="638" cy="316" r="4.5" class="gy"/>

<circle cx="672" cy="300" r="3" class="bl"/><path class="rd" d="M672 300L672 297A3 3 0 0 1 675 300Z"/>
<circle cx="680" cy="300" r="4" class="bl"/><circle cx="693" cy="299" r="9" class="bl"/><circle cx="706" cy="300" r="3.5" class="db"/><circle cx="711" cy="300" r="1.5" class="bl"/>

<circle cx="653" cy="337" r="4.5" class="bl"/><path class="rd" d="M653 337L650.8 333.1A4.5 4.5 0 0 1 653 332.5Z"/>
<circle cx="667" cy="336" r="8" class="pk"/><path class="bl" d="M667 336L667 344A8 8 0 0 1 667 328Z"/>
<circle cx="686" cy="336" r="11" class="bl"/><path class="pk" d="M686 336L675.7 339.8A11 11 0 0 1 686 325Z"/>
<circle cx="701" cy="336" r="3" class="db"/><circle cx="705" cy="337" r="1.5" class="bl"/>
</g>

<g id="title"><text class="t b" x="3" y="22" style="font-size:24px;text-anchor:start">a</text></g>
<g id="n-cellulose"><text class="t src" x="165" y="15">Cellulose</text></g>
<g id="n-starch"><text class="t src" x="222" y="15">Starch</text></g>
<g id="n-hemicellulose"><text class="t src" x="494" y="15">Hemicellulose</text></g>
<g id="n-pectin"><text class="t src" x="675" y="16">Pectin</text></g>
<g id="n-sucrose"><text class="t b" x="87" y="47">Sucrose</text></g>
<g id="n-glucose"><text class="t b" x="197" y="62">Glucose</text></g>
<g id="n-fructose"><text class="t b" x="41" y="93">Fructose</text></g>
<g id="n-galactose"><text class="t b" x="343" y="62">Galactose</text></g>
<g id="n-mannose"><text class="t b" x="423" y="62">Mannose</text></g>
<g id="n-xylose"><text class="t b" x="499" y="62">Xylose</text></g>
<g id="n-arabinose"><text class="t b" x="567" y="62">Arabinose</text></g>
<g id="n-glucuronate"><text class="t b" x="704" y="59">Glucuronate</text></g>
<g id="n-galacturonate"><text class="t b" x="647" y="86">Galacturonate</text></g>
<g id="n-glucose6p"><text class="t" x="194" y="111">Glucose-6P</text></g>
<g id="n-galactose1p"><text class="t" x="349" y="98">Galactose-1P</text></g>
<g id="n-glucose1p"><text class="t" x="349" y="138">Glucose-1P</text></g>
<g id="n-pi"><text class="t" x="437" y="98" style="font-size:12px">P<tspan font-size="8" dy="2">i</tspan></text></g>
<g id="n-mannose6p"><text class="t" x="423" y="152">Mannose-6P</text></g>
<g id="n-fructose1p"><text class="t" x="40" y="153">Fructose-1P</text></g>
<g id="n-lribulose"><text class="t" x="567" y="161"><tspan font-size="11">L</tspan>-Ribulose</text></g>
<g id="n-dfructuronate"><text class="t" x="705" y="154"><tspan font-size="11">D</tspan>-Fructuronate</text></g>
<g id="n-fructose6p"><text class="t" x="178" y="180">Fructose-6P</text></g>
<g id="n-dxylulose"><text class="t" x="498" y="188"><tspan font-size="11">D</tspan>-Xylulose</text></g>
<g id="n-dtagaturonate"><text class="t" x="647" y="185"><tspan font-size="11">D</tspan>-Tagaturonate</text></g>
<g id="n-glucono"><text class="t" x="380" y="210"><tspan font-size="11">D</tspan>-Glucono-1,5-</text><text class="t" x="381" y="224">lactone-6P</text></g>
<g id="n-fructose16p"><text class="t" x="182" y="226">Fructose-1,6P</text></g>
<g id="n-dmannonate"><text class="t" x="710" y="254"><tspan font-size="11">D</tspan>-Mannonate</text></g>
<g id="n-lribulose5p"><text class="t" x="567" y="257"><tspan font-size="11">L</tspan>-Ribulose-5P</text></g>
<g id="n-daltronate"><text class="t" x="645" y="271"><tspan font-size="11">D</tspan>-Altronate</text></g>
<g id="n-gluconate6p"><text class="t" x="380" y="272">Gluconate-6P</text></g>
<g id="n-dhap"><text class="t" x="46" y="302">Dihydroxy</text><text class="t" x="46" y="316">acetone-P</text></g>
<g id="n-g3p"><text class="t" x="192" y="309">Glyceraldehyde-3P</text></g>
<g id="n-dribulose5p"><text class="t" x="380" y="318"><tspan font-size="11">D</tspan>-Ribulose-5P</text></g>
<g id="n-h2o-a"><text class="t s" x="625" y="347">H<tspan font-size="7" dy="2">2</tspan><tspan dy="-2">O</tspan></text></g>
<g id="l-glycolysis"><text class="t b" x="70" y="362" style="fill:#6fa8dc">Glycolysis</text></g>
<g id="n-glycerate13p2"><text class="t" x="193" y="363">Glycerate-1,3P<tspan font-size="10" dy="3">2</tspan></text></g>
<g id="n-dxylulose5p"><text class="t" x="380" y="366"><tspan font-size="11">D</tspan>-Xylulose-5P</text></g>
<g id="n-kdg"><text class="t" x="647" y="384">2-Keto-3-deoxy-<tspan font-size="11">D</tspan>-</text><text class="t" x="646" y="398">gluconate</text></g>
<g id="n-glycerate3p"><text class="t" x="193" y="410">Glycerate-3P</text></g>
<g id="n-butanediol"><text class="t" x="329" y="419">2,3-Butanediol</text></g>
<g id="n-kdpg"><text class="t" x="449" y="417">2-Keto-3-deoxy-<tspan font-size="11">D</tspan>-</text><text class="t" x="465" y="432">gluconate-6P</text></g>
<g id="n-glycerate2p"><text class="t" x="193" y="453">Glycerate-2P</text></g>
<g id="n-acetoin"><text class="t" x="329" y="456">2-Acetoin</text></g>
<g id="n-h2o-b"><text class="t s" x="209" y="478">H<tspan font-size="7" dy="2">2</tspan><tspan dy="-2">O</tspan></text></g>
<g id="n-acetolactate"><text class="t" x="330" y="487">2-Acetolactate</text></g>
<g id="n-glycerate3p-b"><text class="t s" x="438" y="495">Glycerate-3P</text></g>
<g id="n-pep"><text class="t" x="193" y="497">Phosphoenolpyruvate</text></g>
<g id="n-spont"><text class="t" x="354" y="501" style="font-size:8.5px">Spontaneous</text></g>
<g id="n-diacetyl"><text class="t" x="333" y="523">Diacetyl</text></g>
<g id="n-pyruvate"><text class="t" x="193" y="543">Pyruvate</text></g>
<g id="n-llactate"><text class="t" x="80" y="589"><tspan font-size="11">L</tspan>-Lactate</text></g>
<g id="n-acetylcoa"><text class="t" x="187" y="600">Acetyl-CoA</text></g>
<g id="n-acetylp"><text class="t" x="380" y="600">Acetyl-P</text></g>
<g id="n-acetate"><text class="t" x="381" y="649">Acetate</text></g>
<g id="n-oxaloacetate"><text class="t" x="123" y="674">Oxaloacetate</text></g>
<g id="n-citrate"><text class="t" x="228" y="676">Citrate</text></g>
<g id="n-acetaldehyde"><text class="t" x="382" y="699">Acetaldehyde</text></g>
<g id="n-malate"><text class="t" x="52" y="700">Malate</text></g>
<g id="n-cisaconitate"><text class="t" x="280" y="711">cis-Aconitate</text></g>
<g id="l-tca"><text class="t b" x="157" y="741" style="fill:#6fa8dc">TCA cycle</text></g>
<g id="n-ethanol"><text class="t" x="381" y="746">Ethanol</text></g>
<g id="n-fumarate"><text class="t" x="34" y="750">Fumarate</text></g>
<g id="n-isocitrate"><text class="t" x="294" y="750"><tspan font-size="11">D</tspan>-Isocitrate</text></g>
<g id="n-acetylcoa-b"><text class="t s" x="344" y="760">Acetyl-CoA</text></g>
<g id="n-akg"><text class="t" x="272" y="785"><tspan font-style="italic">α</tspan>-Ketoglutarate</text></g>
<g id="n-ethylacetate"><text class="t" x="378" y="786">Ethyl acetate</text></g>
<g id="n-succinate"><text class="t" x="74" y="791">Succinate</text></g>
<g id="n-succinylcoa"><text class="t" x="160" y="801">Succinyl-</text><text class="t" x="160" y="815">CoA</text></g>

<g id="legend">
<rect x="499" y="442" width="243" height="284" fill="#fff" stroke="#333" stroke-width="1.5"/>
<path class="o" d="M508 455H526"/>
<path class="g ge" d="M508 469H536"/>
<text class="t lg" x="540" y="459">Conversions by indigenous enzymes</text>
<text class="t lg" x="540" y="474">Microbial metabolisms</text>
<text class="t lc" x="544" y="520">RPKM value</text>
<text class="t lc" x="521" y="545">1000</text>
<circle cx="553" cy="541" r="15" fill="none" stroke="#000" stroke-width="1.5"/>
<text class="t lc" x="521" y="579">100</text>
<circle cx="552" cy="575" r="7.3" fill="none" stroke="#000" stroke-width="1.5"/>
<text class="t lc" x="521" y="605">10</text>
<circle cx="552" cy="600" r="3" fill="none" stroke="#000" stroke-width="1.3"/>
<text class="t lc" x="553" y="653">Fermentation</text>
<text class="t lc" x="552" y="666">time (days)</text>
<circle cx="514" cy="679" r="5" fill="none" stroke="#000" stroke-width="1.5"/>
<circle cx="532" cy="679" r="5" fill="none" stroke="#000" stroke-width="1.5"/>
<circle cx="548" cy="679" r="5" fill="none" stroke="#000" stroke-width="1.5"/>
<circle cx="564" cy="679" r="5" fill="none" stroke="#000" stroke-width="1.5"/>
<circle cx="581" cy="679" r="5" fill="none" stroke="#000" stroke-width="1.5"/>
<text class="t lc" x="514" y="695">20</text><text class="t lc" x="532" y="695">40</text><text class="t lc" x="548" y="695">60</text><text class="t lc" x="564" y="695">90</text><text class="t lc" x="581" y="695">180</text>
<rect x="600" y="484" width="12" height="12" class="pk"/><text class="t tx" x="618" y="494.5">Tetragenococcus</text>
<rect x="600" y="502" width="12" height="12" class="bl"/><text class="t tx" x="618" y="512.5">Chromohalobacter</text>
<rect x="600" y="519" width="12" height="12" class="gn"/><text class="t tx" x="618" y="529.5">Halomonas</text>
<rect x="600" y="536" width="12" height="12" class="gy"/><text class="t tx" x="618" y="546.5">Marinobacter</text>
<rect x="600" y="552" width="12" height="12" class="rd"/><text class="t tx" x="618" y="562.5">Bacillus</text>
<rect x="600" y="570" width="12" height="12" class="db"/><text class="t tx" x="618" y="580.5">Staphylococcus</text>
<rect x="600" y="587" width="12" height="12" class="pu"/><text class="t tx" x="618" y="597.5">Virgibacillus</text>
<rect x="600" y="603" width="12" height="12" class="ye"/><text class="t tx" x="618" y="613.5">Corynebacterium</text>
<rect x="600" y="619" width="12" height="12" class="bk"/><text class="t tx" x="618" y="629.5">Idiomarinaceae</text>
<rect x="600" y="639" width="12" height="12" class="dg"/><text class="t tx" x="618" y="649.5">Alteromonadaceae</text>
<rect x="600" y="657" width="12" height="12" class="yy"/><text class="t tx" x="618" y="667.5">Micrococcaceae</text>
<rect x="600" y="675" width="12" height="12" class="wp"/><text class="t tx" x="618" y="685.5">Wickerhamomyces</text>
<rect x="600" y="691" width="12" height="12" class="tq"/><text class="t tx" x="618" y="701.5">Debaryomyces</text>
<rect x="600" y="709" width="12" height="12" class="dr"/><text class="t tx" x="618" y="719.5">Aspergillus</text>
</g>
</svg>
